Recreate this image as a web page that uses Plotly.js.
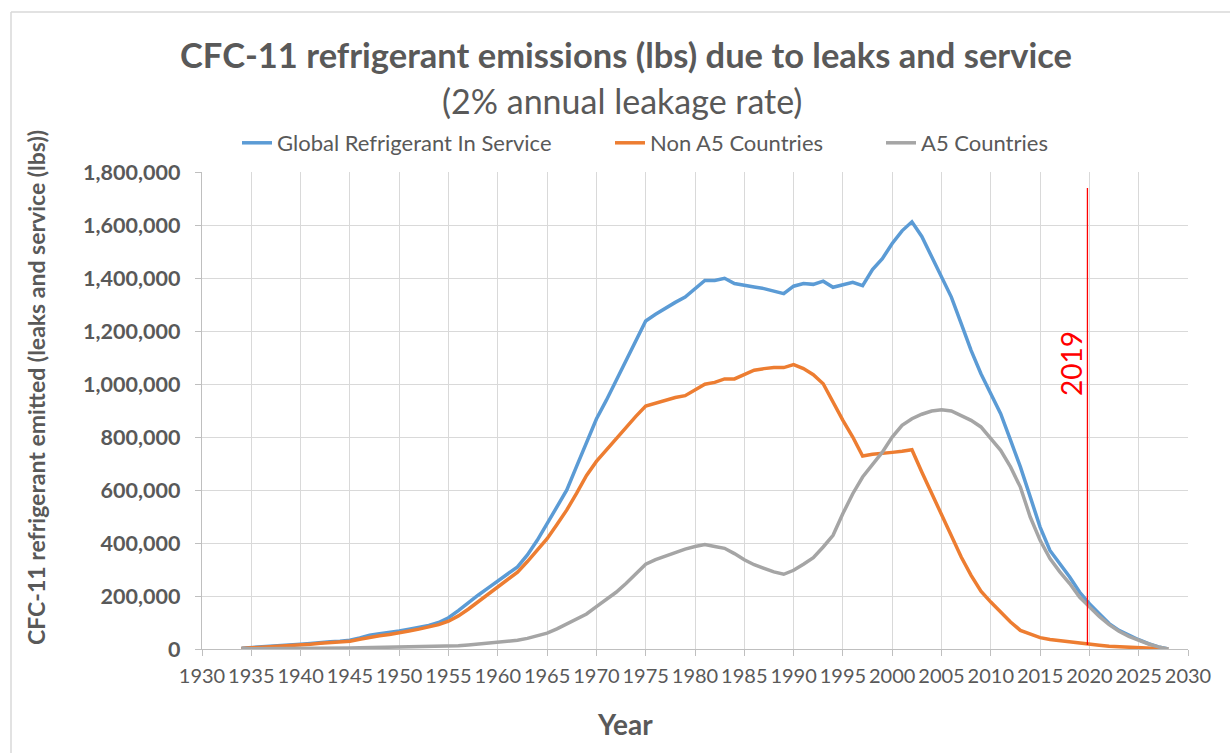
<!DOCTYPE html>
<html>
<head>
<meta charset="utf-8">
<script src="https://cdn.plot.ly/plotly-3.0.1.min.js"></script>
<style>
  html, body { margin: 0; padding: 0; background: #fff; }
  #chart { width: 1230px; height: 753px; }
</style>
</head>
<body>
<div id="chart"></div>
<script>
// years 1934 .. 2028
const years = [];
for (let y = 1934; y <= 2028; y++) years.push(y);

const globalInService = [
  3000, 5000, 7000, 9000, 12000, 15000, 18000, 21000, 25000, 27000,          // 1934-1943
  29000, 33000, 42000, 52000, 58000, 62000, 68000, 75000, 82000, 89000,     // 1944-1953
  100000, 118000, 145000, 175000, 203000, 230000, 257000, 282000, 310000, 355000, // 1954-1963
  410000, 473000, 535000, 600000, 690000, 775000, 868000, 938000, 1014000, 1089000, // 1964-1973
  1165000, 1238000, 1263000, 1287000, 1308000, 1328000, 1360000, 1391000, 1391000, 1399000, // 1974-1983
  1379000, 1371000, 1366000, 1360000, 1351000, 1341000, 1369000, 1379000, 1376000, 1388000, // 1984-1993
  1365000, 1376000, 1384000, 1371000, 1432000, 1473000, 1530000, 1578000, 1612000, 1557000, // 1994-2003
  1479000, 1406000, 1328000, 1228000, 1127000, 1039000, 964000, 888000, 788000, 687000,     // 2004-2013
  574000, 460000, 372000, 322000, 272000, 215000, 171000, 133000, 96000, 70000,             // 2014-2023
  52000, 35000, 20000, 8000, 0                                                              // 2024-2028
];

const nonA5 = [
  2000, 4000, 6000, 8000, 10000, 12000, 14000, 18000, 22000, 24000,
  26000, 29000, 37000, 45000, 50000, 55000, 60000, 68000, 75000, 83000,
  92000, 105000, 125000, 150000, 178000, 205000, 232000, 258000, 290000, 330000,
  372000, 416000, 470000, 525000, 588000, 655000, 708000, 750000, 794000, 838000,
  878000, 917000, 928000, 938000, 949000, 956000, 979000, 999000, 1006000, 1019000,
  1019000, 1035000, 1052000, 1058000, 1062000, 1062000, 1073000, 1058000, 1035000, 1001000,
  930000, 863000, 800000, 728000, 735000, 740000, 742000, 746000, 752000, 668000,
  586000, 504000, 429000, 347000, 278000, 218000, 177000, 140000, 102000, 70000,
  55000, 43000, 36000, 31000, 26000, 21000, 18000, 14000, 10000, 8000,
  6000, 5000, 4000, 2000, 0
];

const a5 = [
  1000, 1000, 1000, 1500, 1500, 2000, 2000, 2500, 3000, 3000,
  3500, 4000, 4500, 5000, 5000, 5500, 6000, 7000, 8000, 9000,
  9500, 10000, 12000, 15000, 18000, 21000, 24000, 28000, 33000, 40000,
  50000, 60000, 76000, 94000, 112000, 132000, 160000, 186000, 214000, 247000,
  284000, 320000, 337000, 351000, 364000, 377000, 387000, 394000, 387000, 380000,
  360000, 337000, 318000, 303000, 291000, 282000, 297000, 320000, 345000, 385000,
  429000, 511000, 586000, 649000, 696000, 743000, 800000, 844000, 869000, 886000,
  898000, 903000, 898000, 882000, 863000, 838000, 794000, 750000, 687000, 611000,
  498000, 410000, 341000, 291000, 247000, 196000, 159000, 123000, 92000, 67000,
  48000, 33000, 19000, 8000, 0
];

const seriesNames = ['Global Refrigerant In Service', 'Non A5 Countries', 'A5 Countries'];
const seriesColors = ['#5b9bd5', '#ed7d31', '#a5a5a5'];

// red marker line for 2019
const markerX = [2019.8, 2019.8];
const markerY = [15000, 1740000];
const markerLabel = '2019';

const xTicks = [];
for (let y = 1930; y <= 2030; y += 5) xTicks.push(y);

const font = 'Lato, "Open Sans", sans-serif';
const grey = '#595959';

// plot box in pixels, used to place things given in paper units
const L = 202, W = 986, B = 649, H = 477;
const px = x => (x - L) / W;
const py = y => (B - y) / H;

const legendIds = ['legend', 'legend2', 'legend3'];
const legendTextX = [277, 650, 921];

const traces = [globalInService, nonA5, a5].map((vals, i) => ({
  x: years,
  y: vals,
  name: seriesNames[i],
  type: 'scatter',
  mode: 'lines',
  line: { color: seriesColors[i], width: 3.5 },
  legend: legendIds[i],
  hoverinfo: 'x+y'
}));

traces.push({
  x: markerX,
  y: markerY,
  type: 'scatter',
  mode: 'lines',
  line: { color: '#ff0000', width: 1.3 },
  showlegend: false,
  hoverinfo: 'skip'
});

const layout = {
  width: 1230,
  height: 753,
  margin: { l: L, r: 1230 - L - W, t: B - H, b: 753 - B },
  paper_bgcolor: '#ffffff',
  plot_bgcolor: '#ffffff',
  font: { family: font, color: grey },
  title: {
    text: '<b>CFC-11 refrigerant emissions (lbs) due to leaks and service</b>',
    font: { family: font, size: 34.5, color: grey },
    x: 626 / 1230, xanchor: 'center',
    y: 1 - 56 / 753, yanchor: 'middle'
  },
  showlegend: true,
  xaxis: {
    range: [1930, 2030],
    tickvals: xTicks,
    ticktext: xTicks.map(String),
    tickangle: 0,
    showgrid: true,
    gridcolor: '#d9d9d9',
    gridwidth: 1,
    showline: true,
    linecolor: '#bfbfbf',
    linewidth: 1.3,
    ticks: 'outside',
    ticklen: 6,
    tickcolor: '#bfbfbf',
    ticklabelstandoff: 3,
    tickfont: { family: font, size: 20, color: grey },
    zeroline: false,
    fixedrange: true
  },
  yaxis: {
    range: [0, 1800000],
    dtick: 200000,
    tickformat: ',d',
    showgrid: true,
    gridcolor: '#d9d9d9',
    gridwidth: 1,
    showline: true,
    linecolor: '#bfbfbf',
    linewidth: 1.3,
    ticks: 'outside',
    ticklen: 6,
    tickcolor: '#bfbfbf',
    ticklabelstandoff: 10,
    tickfont: { family: font, size: 21.5, color: grey, weight: 'bold' },
    zeroline: false,
    fixedrange: true
  },
  shapes: [
    { type: 'line', xref: 'paper', yref: 'paper',
      x0: px(11), x1: px(11), y0: py(12), y1: py(760),
      line: { color: '#d9d9d9', width: 1.5 } },
    { type: 'line', xref: 'paper', yref: 'paper',
      x0: px(11), x1: px(1240), y0: py(12), y1: py(12),
      line: { color: '#d9d9d9', width: 1.5 } }
  ],
  annotations: [
    { text: '(2% annual leakage rate)', xref: 'paper', yref: 'paper',
      x: px(622), y: py(100), xanchor: 'center', yanchor: 'middle',
      showarrow: false, font: { family: font, size: 34, color: grey } },
    { text: '<b>CFC-11 refrigerant emitted (leaks and service (lbs))</b>', xref: 'paper', yref: 'paper',
      x: px(36), y: py(388), xanchor: 'center', yanchor: 'middle',
      textangle: -90, showarrow: false, font: { family: font, size: 23, color: grey } },
    { text: '<b>Year</b>', xref: 'paper', yref: 'paper',
      x: px(625), y: py(724), xanchor: 'center', yanchor: 'middle',
      showarrow: false, font: { family: font, size: 28, color: grey } },
    { text: markerLabel, xref: 'x', yref: 'y',
      x: markerX[0] - 1.6, y: 1078000, xanchor: 'center', yanchor: 'middle',
      textangle: -90, showarrow: false, font: { family: font, size: 28, color: '#ff0000' } }
  ]
};

legendIds.forEach((id, i) => {
  layout[id] = {
    orientation: 'h',
    x: px(legendTextX[i] - 40), xanchor: 'left',
    y: py(143), yanchor: 'middle',
    font: { family: font, size: 22, color: grey },
    bgcolor: 'rgba(0,0,0,0)'
  };
});

Plotly.newPlot('chart', traces, layout, { displayModeBar: false, staticPlot: true });
</script>
</body>
</html>
